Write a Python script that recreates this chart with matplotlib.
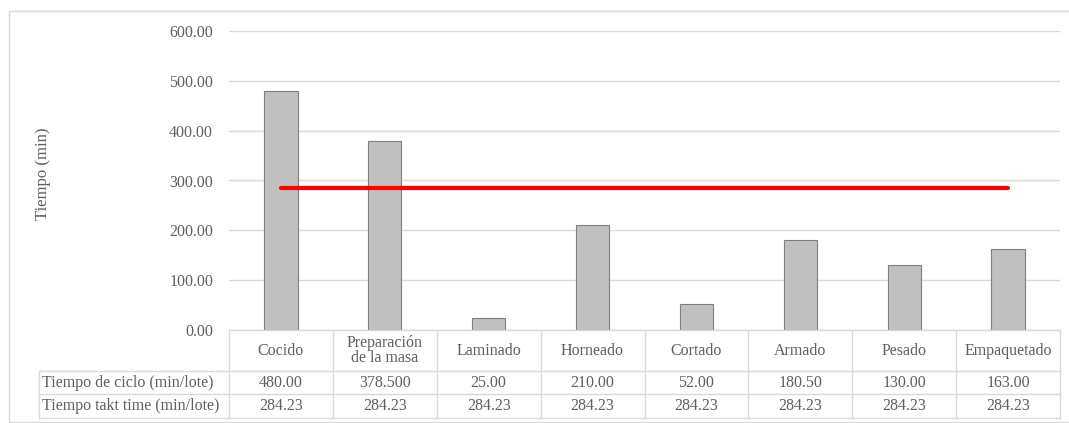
import matplotlib.pyplot as plt
from matplotlib.lines import Line2D
from matplotlib.patches import Rectangle

plt.rcParams['font.family'] = ['Liberation Serif', 'DejaVu Serif']

categories = ['Cocido', 'Preparación\nde la masa', 'Laminado', 'Horneado',
              'Cortado', 'Armado', 'Pesado', 'Empaquetado']
ciclo = [480.0, 378.5, 25.0, 210.0, 52.0, 180.5, 130.0, 163.0]
takt = [284.23] * 8
ciclo_labels = ['480.00', '378.500', '25.00', '210.00', '52.00', '180.50', '130.00', '163.00']
takt_labels = ['284.23'] * 8
row_names = ['Tiempo de ciclo (min/lote)', 'Tiempo takt time (min/lote)']
yticks = [0, 100, 200, 300, 400, 500, 600]

W, H = 1069, 423
TXT = '#5f5f5f'
LINE = '#d9d9d9'

fig = plt.figure(figsize=(W / 100, H / 100), dpi=100)


def fx(x):
    return x / W


def fy(y):
    return 1 - y / H


# plot area in pixels
left, right, top, bottom = 229, 1060, 31, 330
ax = fig.add_axes([fx(left), fy(bottom), fx(right - left), (bottom - top) / H])

n = len(categories)
x = list(range(n))
ax.bar(x, ciclo, width=0.32, color='#c0c0c0', edgecolor='#7f7f7f', linewidth=0.8, zorder=2)
ax.plot(x, takt, color='#ff0000', linewidth=3.0, solid_capstyle='round', zorder=3)

ax.set_xlim(-0.5, n - 0.5)
ax.set_ylim(0, 600)
ax.set_yticks(yticks)
ax.set_yticklabels([f'{v:.2f}' for v in yticks], color=TXT, fontsize=11.5)
ax.tick_params(axis='y', length=0, pad=11.5)
ax.set_xticks([])
ax.grid(axis='y', color=LINE, linewidth=1, zorder=0)
for s in ax.spines.values():
    s.set_visible(False)

fig.text(fx(43), fy(174), 'Tiempo (min)', rotation=90, ha='center', va='center',
         color=TXT, fontsize=12)

# chart border
fig.add_artist(Rectangle((fx(9), fy(422)), fx(1080 - 9), (422 - 11) / H,
                         transform=fig.transFigure, fill=False, edgecolor=LINE, linewidth=1))

# data table below the axis
col_w = (right - left) / n
tab_left = 39
r0, r1, r2, r3 = 330, 371, 394, 418


def hline(y, x0, x1):
    fig.add_artist(Line2D([fx(x0), fx(x1)], [fy(y), fy(y)], transform=fig.transFigure,
                          color=LINE, linewidth=1))


def vline(x0, y0, y1):
    fig.add_artist(Line2D([fx(x0), fx(x0)], [fy(y0), fy(y1)], transform=fig.transFigure,
                          color=LINE, linewidth=1))


hline(r0, left, right)
for y in (r1, r2, r3):
    hline(y, tab_left, right)
for i in range(n + 1):
    vline(left + i * col_w, r0, r3)
vline(tab_left, r1, r3)

for i, cat in enumerate(categories):
    cx = left + (i + 0.5) * col_w
    fig.text(fx(cx), fy((r0 + r1) / 2), cat, ha='center', va='center', color=TXT,
             fontsize=11.5, linespacing=0.95)
    fig.text(fx(cx), fy((r1 + r2) / 2), ciclo_labels[i], ha='center', va='center',
             color=TXT, fontsize=11.5)
    fig.text(fx(cx), fy((r2 + r3) / 2), takt_labels[i], ha='center', va='center',
             color=TXT, fontsize=11.5)

for name, (ya, yb) in zip(row_names, [(r1, r2), (r2, r3)]):
    fig.text(fx(tab_left + 3), fy((ya + yb) / 2), name, ha='left', va='center',
             color=TXT, fontsize=11.5)

fig.savefig('out.png', dpi=100)
